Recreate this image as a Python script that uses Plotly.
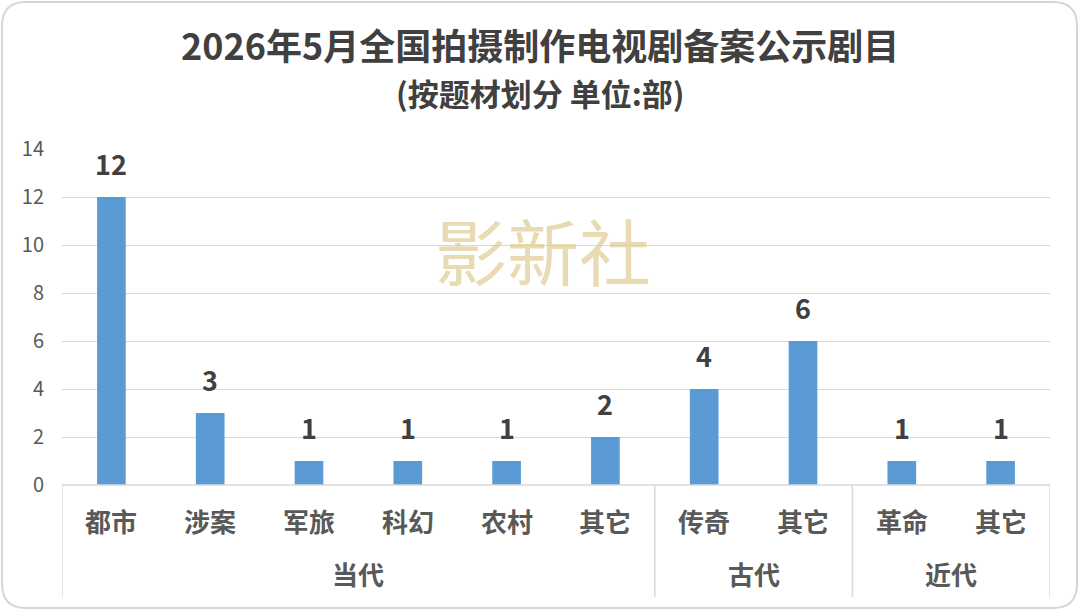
import plotly.graph_objects as go

# ---- data ----
groups = ["当代", "古代", "近代"]
subcats = [["都市", "涉案", "军旅", "科幻", "农村", "其它"], ["传奇", "其它"], ["革命", "其它"]]
values = [12, 3, 1, 1, 1, 2, 4, 6, 1, 1]
title = "2026年5月全国拍摄制作电视剧备案公示剧目"
subtitle = "(按题材划分 单位:部)"
watermark = "影新社"
y_ticks = [0, 2, 4, 6, 8, 10, 12, 14]

W, H = 1080, 611
L, R, T, B = 62, 30, 149, 126
PW, PH = W - L - R, H - T - B

def px(xp):
    return (xp - L) / PW

def py(yp):
    return (H - B - yp) / PH

FONT = "Noto Sans CJK SC"
labels_flat = [s for g in subcats for s in g]
xs = list(range(len(labels_flat)))

fig = go.Figure()
fig.add_trace(go.Bar(
    x=xs, y=values,
    marker=dict(color="#5B9BD5", line=dict(width=0)),
    width=0.29, hoverinfo="skip",
))

annotations = []
shapes = []
# data labels
for xi, v in zip(xs, values):
    annotations.append(dict(x=xi, y=v, xref="x", yref="y", text=str(v), showarrow=False,
                            yanchor="middle", yshift=34,
                            font=dict(family=FONT, size=27, color="#404040", weight="bold")))
# sub-category and group labels, dividers
start = 0
bounds = [-0.5]
for g, subs in zip(groups, subcats):
    for i, s in enumerate(subs):
        annotations.append(dict(x=start + i, y=py(520), xref="x", yref="paper", text=s,
                                showarrow=False, yanchor="middle",
                                font=dict(family=FONT, size=26, color="#595959", weight="bold")))
    center = start + (len(subs) - 1) / 2
    annotations.append(dict(x=center, y=py(573), xref="x", yref="paper", text=g,
                            showarrow=False, yanchor="middle",
                            font=dict(family=FONT, size=26, color="#595959", weight="bold")))
    start += len(subs)
    bounds.append(start - 0.5)

for b in bounds:
    shapes.append(dict(type="line", xref="x", yref="paper", x0=b, x1=b, y0=0, y1=py(597),
                       line=dict(color="#D9D9D9", width=1.5)))
shapes.append(dict(type="line", xref="x", yref="paper", x0=-0.5, x1=len(xs) - 0.5, y0=0, y1=0,
                   line=dict(color="#D9D9D9", width=1.5)))

# rounded border
x0, x1, y0, y1, r = 2, 1077, 2, 608, 24
pts = (f"M {px(x0 + r)},{py(y0)} L {px(x1 - r)},{py(y0)} Q {px(x1)},{py(y0)} {px(x1)},{py(y0 + r)} "
       f"L {px(x1)},{py(y1 - r)} Q {px(x1)},{py(y1)} {px(x1 - r)},{py(y1)} "
       f"L {px(x0 + r)},{py(y1)} Q {px(x0)},{py(y1)} {px(x0)},{py(y1 - r)} "
       f"L {px(x0)},{py(y0 + r)} Q {px(x0)},{py(y0)} {px(x0 + r)},{py(y0)} Z")
shapes.append(dict(type="path", xref="paper", yref="paper", path=pts,
                   line=dict(color="#D6D6D6", width=2), layer="below"))

annotations.append(dict(x=0.5 * (px(0) + px(W)), y=py(44), xref="paper", yref="paper", text=title,
                        showarrow=False, yanchor="middle", xanchor="center",
                        font=dict(family=FONT, size=36, color="#404040", weight="bold")))
annotations.append(dict(x=0.5 * (px(0) + px(W)), y=py(93), xref="paper", yref="paper", text=subtitle,
                        showarrow=False, yanchor="middle", xanchor="center",
                        font=dict(family=FONT, size=31, color="#404040", weight="bold")))
annotations.append(dict(x=px(543), y=py(248), xref="paper", yref="paper", text=watermark, showarrow=False,
                        yanchor="middle", xanchor="center",
                        font=dict(family=FONT, size=72, color="rgba(222,202,145,0.7)")))

fig.update_layout(
    width=W, height=H,
    margin=dict(l=L, r=R, t=T, b=B),
    paper_bgcolor="white", plot_bgcolor="white",
    showlegend=False,
    annotations=annotations, shapes=shapes,
    xaxis=dict(range=[-0.5, len(xs) - 0.5], showticklabels=False, showgrid=False,
               zeroline=False, showline=False, fixedrange=True),
    yaxis=dict(range=[0, 14], tickvals=y_ticks, showgrid=True, gridcolor="#D9D9D9", gridwidth=1,
               zeroline=False, showline=False, ticks="outside", ticklen=13,
               tickcolor="rgba(0,0,0,0)", fixedrange=True,
               tickfont=dict(family=FONT, size=20, color="#595959")),
)
fig.write_html("out.html", config={"displayModeBar": False},
               post_script="document.body.style.margin='0px';")
